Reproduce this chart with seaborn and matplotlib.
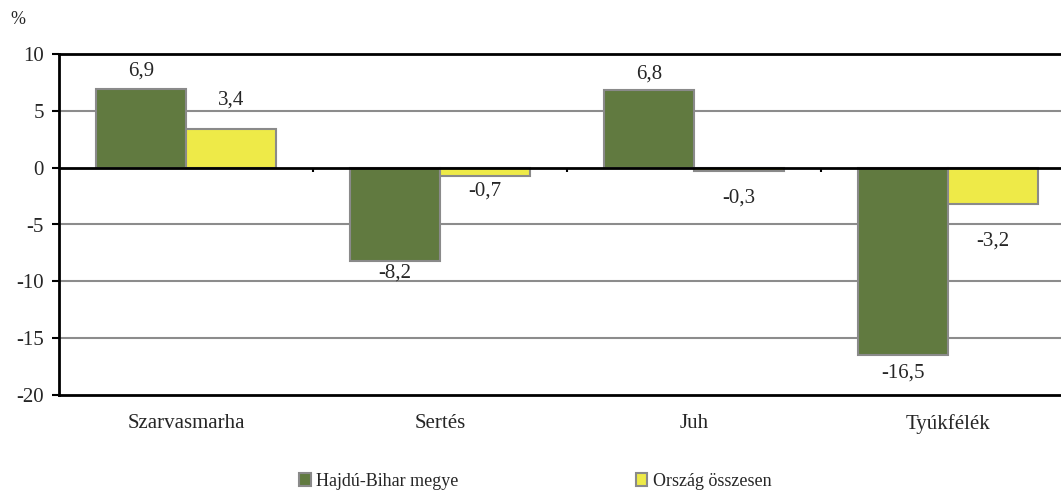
import matplotlib
matplotlib.use("Agg")
import matplotlib.pyplot as plt
import seaborn as sns
import pandas as pd
from matplotlib.patches import Patch

categories = ["Szarvasmarha", "Sertés", "Juh", "Tyúkfélék"]
series_names = ["Hajdú-Bihar megye", "Ország összesen"]
hajdu_values = [6.9, -8.2, 6.8, -16.5]
orszag_values = [3.4, -0.7, -0.3, -3.2]
y_ticks = [10, 5, 0, -5, -10, -15, -20]
colors = ["#617A40", "#EEEA48"]
# label distance (pixels) from bar end to label centre, as placed in the original
label_offsets = [[18, 12, 16, 18], [29, 15, 27, 37]]

sns.set_style("white")
plt.rcParams["font.family"] = ["Liberation Serif", "DejaVu Serif"]
plt.rcParams["axes.unicode_minus"] = False

df = pd.DataFrame({
    "cat": categories * 2,
    "series": [series_names[0]] * 4 + [series_names[1]] * 4,
    "val": hajdu_values + orszag_values,
})

fig = plt.figure(figsize=(10.61, 4.90), dpi=100)
ax = fig.add_axes([59 / 1061, 1 - 395 / 490, 1016 / 1061, 341 / 490])

sns.barplot(data=df, x="cat", y="val", hue="series", palette=colors,
            saturation=1, width=0.71, edgecolor="#8a8a8a", linewidth=1.5, ax=ax,
            legend=False, errorbar=None, zorder=3)

ax.set_ylim(-20, 10)
ax.set_xlim(-0.5, 3.5)
ax.set_yticks(y_ticks)
ax.set_yticklabels([str(t) for t in y_ticks], fontsize=15)
for t in [5, -5, -10, -15]:
    ax.axhline(t, color="#8c8c8c", lw=1.5, zorder=1)
ax.axhline(0, color="black", lw=2, zorder=4)
ax.vlines([0.5, 1.5, 2.5], -0.4, 0, color="black", lw=1.5, zorder=4)

ax.set_xlabel("")
ax.set_ylabel("")
ax.tick_params(axis="x", length=0, pad=14, labelsize=15)
ax.tick_params(axis="y", length=5, width=1.5, direction="out", left=True, pad=6, color="black")

for s in ["left", "top", "bottom"]:
    ax.spines[s].set_visible(True)
    ax.spines[s].set_color("black")
    ax.spines[s].set_linewidth(2)
ax.spines["right"].set_visible(False)

fmt = lambda v: f"{v:.1f}".replace(".", ",")
for cont, offs in zip(ax.containers, label_offsets):
    for bar, off in zip(cont.patches, offs):
        h = bar.get_height()
        x = bar.get_x() + bar.get_width() / 2
        sign = 1 if h >= 0 else -1
        ax.annotate(fmt(h), (x, h), xytext=(0, sign * off), textcoords="offset pixels",
                    ha="center", va="center", fontsize=15, zorder=5)

fig.text(18 / 1061, 1 - 20 / 490, "%", fontsize=13, ha="center", va="center")

handles = [Patch(facecolor=c, edgecolor="#8a8a8a", linewidth=1.5) for c in colors]
fig.legend(handles, series_names, loc="center left", bbox_to_anchor=(290 / 1061, 1 - 481 / 490),
           ncol=2, frameon=False, fontsize=13, handlelength=0.65, handleheight=0.7,
           handletextpad=0.3, columnspacing=9.8, borderpad=0)

fig.savefig("out.png", dpi=100)
